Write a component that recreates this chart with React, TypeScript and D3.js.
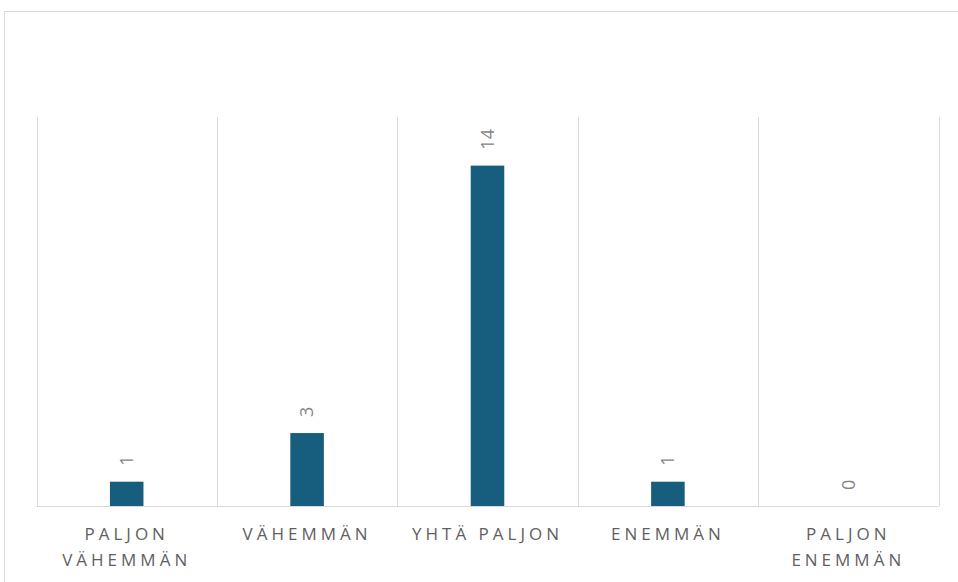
import React from "react";
import * as d3 from "d3";

const categories: string[][] = [
  ["PALJON", "VÄHEMMÄN"],
  ["VÄHEMMÄN"],
  ["YHTÄ PALJON"],
  ["ENEMMÄN"],
  ["PALJON", "ENEMMÄN"],
];
const values: number[] = [1, 3, 14, 1, 0];
const yMax = 16;

const W = 958;
const H = 582;
const plot = { left: 36.5, right: 938.5, top: 117, bottom: 506 };

export default function App() {
  const keys = categories.map((c) => c.join(" "));
  const x = d3.scaleBand<string>().domain(keys).range([plot.left, plot.right]).padding(0);
  const y = d3.scaleLinear().domain([0, yMax]).range([plot.bottom, plot.top]);
  const bw = x.bandwidth() * 0.186;
  const bounds = [...keys.map((k) => x(k)!), plot.right];
  const font = "'Open Sans', 'Noto Sans', sans-serif";

  return (
    <div style={{ position: "fixed", left: 0, top: 0 }}>
      <svg width={W} height={H} style={{ display: "block" }}>
        <rect x={0} y={0} width={W} height={H} fill="#fff" />
        <rect x={4.5} y={11.5} width={W + 20} height={H + 20} fill="none" stroke="#d9d9d9" strokeWidth={1} />
        {bounds.map((bx, i) => (
          <line key={i} x1={Math.round(bx) + 0.5} x2={Math.round(bx) + 0.5} y1={plot.top} y2={plot.bottom} stroke="#d9d9d9" strokeWidth={1} />
        ))}
        {keys.map((k, i) => {
          const cx = x(k)! + x.bandwidth() / 2;
          const v = values[i];
          return (
            <g key={k}>
              {v > 0 && (
                <rect x={cx - bw / 2} y={y(v)} width={bw} height={y(0) - y(v)} fill="#175E7E" />
              )}
              <text
                transform={`translate(${cx},${y(v) - 16}) rotate(-90)`}
                dy="0.35em"
                fontFamily={font}
                fontSize={18}
                fill="#858585"
                textAnchor="start"
              >
                {v}
              </text>
              {categories[i].map((line, j) => (
                <text
                  key={j}
                  x={cx}
                  y={540 + j * 26}
                  fontFamily={font}
                  fontSize={17}
                  letterSpacing={4}
                  fill="#5f5f5f"
                  textAnchor="middle"
                >
                  {line}
                </text>
              ))}
            </g>
          );
        })}
        <line x1={plot.left} x2={plot.right} y1={plot.bottom + 0.5} y2={plot.bottom + 0.5} stroke="#d9d9d9" strokeWidth={1} />
      </svg>
    </div>
  );
}
